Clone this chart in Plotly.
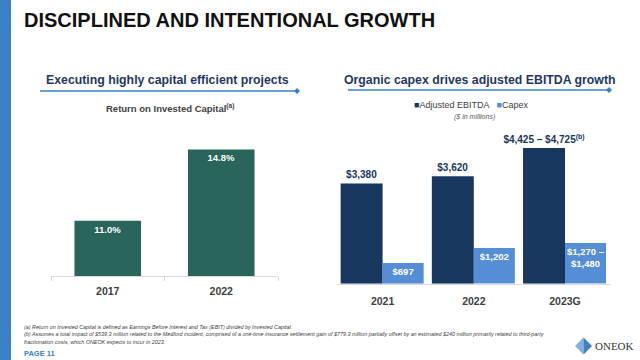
import plotly.graph_objects as go

# ---------------- data ----------------
roic_years = ["2017", "2022"]
roic_values = [11.0, 14.8]
roic_labels = ["11.0%", "14.8%"]

ebitda_years = ["2021", "2022", "2023G"]
ebitda_values = [3380, 3620, 4575]          # 2023G shown at midpoint of guidance range
ebitda_labels = ["$3,380", "$3,620", "$4,425 – $4,725<sup>(b)</sup>"]
capex_values = [697, 1202, 1375]            # 2023G shown at midpoint of guidance range
capex_labels = ["$697", "$1,202", "$1,270 –<br>$1,480"]

series_names = ["Adjusted EBITDA", "Capex"]

# ---------------- style ----------------
W, H = 640, 360
SANS = "Liberation Sans, Arial, sans-serif"
TEAL = "#2a655c"
NAVY = "#17375e"
CAPEX = "#558ed5"
STRIPE = "#3a80c3"
SUBNAVY = "#1f3864"
GRAY = "#404040"


def px(x):
    return x / W


def py(y):
    return 1 - y / H


fig = go.Figure()

fig.add_trace(go.Bar(
    x=roic_years, y=roic_values, text=roic_labels,
    textposition="inside", insidetextanchor="end", constraintext="none",
    textfont=dict(family=SANS, size=9.5, color="white", weight="bold"),
    marker=dict(color=TEAL, line=dict(width=0)),
    width=0.587, xaxis="x", yaxis="y", showlegend=False, name="ROIC",
))

fig.add_trace(go.Bar(
    x=ebitda_years, y=ebitda_values, text=ebitda_labels,
    textposition="outside", constraintext="none", cliponaxis=False,
    textfont=dict(family=SANS, size=10, color=NAVY, weight="bold"),
    marker=dict(color=NAVY, line=dict(width=0)),
    width=0.46, offset=-0.46, xaxis="x2", yaxis="y2", name=series_names[0],
    showlegend=False,
))

fig.add_trace(go.Bar(
    x=ebitda_years, y=capex_values, text=capex_labels,
    textposition="inside", insidetextanchor="end", constraintext="none",
    textfont=dict(family=SANS, size=9.5, color="white", weight="bold"),
    marker=dict(color=CAPEX, line=dict(width=0)),
    width=0.45, offset=0.0, xaxis="x2", yaxis="y2", name=series_names[1],
    showlegend=False,
))

axis_common = dict(showgrid=False, zeroline=False, fixedrange=True)

fig.update_layout(
    width=W, height=H,
    margin=dict(l=0, r=0, t=0, b=0),
    paper_bgcolor="white", plot_bgcolor="rgba(0,0,0,0)",
    barmode="overlay",
    font=dict(family=SANS, color=GRAY),
    xaxis=dict(domain=[px(51), px(278)], anchor="y", type="category",
               showline=True, linecolor="#d9d9d9", linewidth=1,
               ticks="outside", tickson="boundaries", ticklen=4, tickcolor="#d9d9d9",
               ticklabelstandoff=5,
               tickfont=dict(family=SANS, size=10.5, color=GRAY, weight="bold"),
               **axis_common),
    yaxis=dict(domain=[py(276), py(140)], anchor="x", range=[8.06, 15.30],
               visible=False, **axis_common),
    xaxis2=dict(domain=[px(337), px(610.6)], anchor="y2", type="category",
                showline=True, linecolor="#d9d9d9", linewidth=1,
                ticks="outside", ticklen=8, tickcolor="rgba(0,0,0,0)",
                tickfont=dict(family=SANS, size=10.5, color=GRAY, weight="bold"),
                **axis_common),
    yaxis2=dict(domain=[py(283.7), py(130)], anchor="x2", range=[0, 5184],
                visible=False, **axis_common),
    showlegend=False,
)

shapes = []
# left stripe
shapes.append(dict(type="rect", xref="paper", yref="paper", x0=0, x1=px(11), y0=0, y1=1,
                   fillcolor=STRIPE, line=dict(width=0), layer="below"))
# subtitle underlines with diamonds
for x0, x1, yy in [(40, 297, 91), (348, 609, 90)]:
    shapes.append(dict(type="line", xref="paper", yref="paper", x0=px(x0), x1=px(x1),
                       y0=py(yy), y1=py(yy), line=dict(color=STRIPE, width=1.5)))
    r = 3
    path = (f"M {px(x1 - r)},{py(yy)} L {px(x1)},{py(yy - r)} "
            f"L {px(x1 + r)},{py(yy)} L {px(x1)},{py(yy + r)} Z")
    shapes.append(dict(type="path", xref="paper", yref="paper", path=path,
                       fillcolor=STRIPE, line=dict(width=0)))
# logo diamond (two halves)
cx, cy, rx, ry = 583.5, 346, 8.5, 8.5
left_half = f"M {px(cx - rx)},{py(cy)} L {px(cx)},{py(cy - ry)} L {px(cx)},{py(cy + ry)} Z"
right_half = f"M {px(cx)},{py(cy - ry)} L {px(cx + rx)},{py(cy)} L {px(cx)},{py(cy + ry)} Z"
shapes.append(dict(type="path", xref="paper", yref="paper", path=left_half,
                   fillcolor="#7fb2e0", line=dict(width=0)))
shapes.append(dict(type="path", xref="paper", yref="paper", path=right_half,
                   fillcolor="#3f7fbf", line=dict(width=0)))
fig.update_layout(shapes=shapes)

ann = []


def text(x, y, s, size, color=GRAY, family=SANS, bold=False, italic=False,
         xanchor="center"):
    ann.append(dict(xref="paper", yref="paper", x=px(x), y=py(y), text=s,
                    showarrow=False, xanchor=xanchor, yanchor="middle",
                    font=dict(family=family, size=size, color=color,
                              weight="bold" if bold else "normal",
                              style="italic" if italic else "normal")))


text(22, 20, "DISCIPLINED AND INTENTIONAL GROWTH", 20, color="#111111",
     bold=True, xanchor="left")
text(167, 80, "Executing highly capital efficient projects", 12.3, color=SUBNAVY, bold=True)
text(480, 80, "Organic capex drives adjusted EBITDA growth", 12.3, color=SUBNAVY, bold=True)
text(170, 108, "Return on Invested Capital<sup>(a)</sup>", 9.5, bold=True)

legend_txt = (f"<span style='color:{NAVY}'>■</span>{series_names[0]}   "
              f"<span style='color:{CAPEX}'>■</span>{series_names[1]}")
text(471, 105, legend_txt, 9)
text(474, 117, "($ in millions)", 7, color="#595959", italic=True)

fn = [
    "(a) Return on Invested Capital is defined as Earnings Before Interest and Tax (EBIT) divided by Invested Capital.",
    "(b) Assumes a total impact of $539.3 million related to the Medford incident, comprised of a one-time insurance "
    "settlement gain of $779.3 million partially offset by an estimated $240 million primarily related to third-party",
    "fractionation costs, which ONEOK expects to incur in 2023.",
]
for i, s in enumerate(fn):
    text(22, 327 + i * 7.3, s, 5.4, color="#404040", italic=True, xanchor="left")

text(22, 353, "PAGE 11", 7.5, color=STRIPE, bold=True, xanchor="left")
text(593, 346, "ONEOK", 11, color="#333333", family="Liberation Serif, serif", xanchor="left")

fig.update_layout(annotations=ann)

fig.write_html("out.html", config={"displayModeBar": False},
               post_script="document.body.style.margin='0px';")
